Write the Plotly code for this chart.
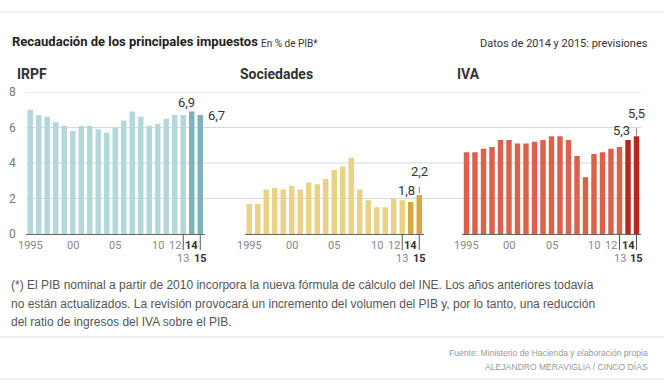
import plotly.graph_objects as go

W, H = 664, 387

years = list(range(1995, 2016))
irpf = [7.0, 6.7, 6.6, 6.3, 6.1, 5.8, 6.1, 6.1, 5.9, 5.7, 6.0, 6.4, 6.9, 6.6, 6.1, 6.2, 6.5, 6.7, 6.7, 6.9, 6.7]
sociedades = [1.7, 1.7, 2.5, 2.6, 2.5, 2.7, 2.5, 2.9, 2.8, 3.1, 3.6, 3.8, 4.3, 2.5, 1.9, 1.5, 1.5, 2.0, 1.9, 1.8, 2.2]
iva = [4.6, 4.6, 4.8, 4.9, 5.3, 5.3, 5.1, 5.1, 5.2, 5.3, 5.5, 5.5, 5.3, 4.4, 3.2, 4.5, 4.6, 4.8, 4.9, 5.3, 5.5]

panel_titles = ["IRPF", "Sociedades", "IVA"]
y_ticks = [0, 2, 4, 6, 8]
tick_top = {1995: "1995", 2000: "00", 2005: "05", 2010: "10", 2012: "12", 2014: "<b>14</b>"}
tick_bottom = {2013: "13", 2015: "<b>15</b>"}

light = ["#b3d8dc", "#ebd186", "#da624d"]
dark = ["#79b4b9", "#d8a83c", "#b8271d"]

NARROW = "Roboto, Liberation Sans, sans-serif"
SANS = "Liberation Sans, Arial, sans-serif"


def px(x):
    return x / W


def py(y):
    return 1 - y / H


# panel x domains in pixels
domains = [(26, 204.5), (245, 423.5), (462.25, 640.75)]
y_dom = (py(234), py(92))

fig = go.Figure()
series = [irpf, sociedades, iva]
for i, vals in enumerate(series):
    colors = [light[i]] * (len(years) - 2) + [dark[i]] * 2
    fig.add_trace(go.Bar(
        x=years, y=vals, marker=dict(color=colors, line=dict(width=0)),
        xaxis="x" if i == 0 else f"x{i+1}", yaxis="y" if i == 0 else f"y{i+1}",
        showlegend=False, hoverinfo="x+y",
    ))

layout = dict(
    width=W, height=H, autosize=False,
    margin=dict(l=0, r=0, t=0, b=0),
    paper_bgcolor="white", plot_bgcolor="rgba(0,0,0,0)",
    bargap=0.36, showlegend=False,
)
for i, (a, b) in enumerate(domains):
    xk = "xaxis" if i == 0 else f"xaxis{i+1}"
    yk = "yaxis" if i == 0 else f"yaxis{i+1}"
    layout[xk] = dict(domain=[px(a), px(b)], range=[1994.5, 2015.5], showgrid=False,
                      showticklabels=False, ticks="", zeroline=False,
                      showline=True, linecolor="#666666", linewidth=1.3,
                      anchor="y" if i == 0 else f"y{i+1}")
    layout[yk] = dict(domain=list(y_dom), range=[0, 8], showgrid=False, showticklabels=False,
                      ticks="", zeroline=False, showline=False,
                      anchor="x" if i == 0 else f"x{i+1}")
fig.update_layout(**layout)

shapes = []
annotations = []

# top/bottom rules
for yy in (12, 337, 379):
    shapes.append(dict(type="line", xref="paper", yref="paper", x0=0, x1=1, y0=py(yy), y1=py(yy),
                       line=dict(color="#e3e3e3", width=1.2)))

# gridlines
for v in y_ticks[1:]:
    shapes.append(dict(type="line", xref="paper", yref="y", x0=px(26), x1=px(641), y0=v, y1=v,
                       line=dict(color="#d9d9d9", width=1), layer="below"))

# y tick labels
for v in y_ticks:
    annotations.append(dict(x=px(18), y=v, xref="paper", yref="y", text=str(v), showarrow=False,
                            xanchor="right", yanchor="middle",
                            font=dict(family=NARROW, size=12, color="#777777")))

# x tick labels and tick lines
for i in range(3):
    xr = "x" if i == 0 else f"x{i+1}"
    for yr, lab in tick_top.items():
        annotations.append(dict(x=yr, y=py(245), xref=xr, yref="paper", text=lab, showarrow=False,
                                xanchor="center", yanchor="middle",
                                font=dict(family=NARROW, size=11,
                                          color="#333333" if "<b>" in lab else "#888888")))
    for yr, lab in tick_bottom.items():
        annotations.append(dict(x=yr, y=py(258.5), xref=xr, yref="paper", text=lab, showarrow=False,
                                xanchor="center", yanchor="middle",
                                font=dict(family=NARROW, size=11,
                                          color="#333333" if "<b>" in lab else "#888888")))
        shapes.append(dict(type="line", xref=xr, yref="paper", x0=yr, x1=yr, y0=py(234), y1=py(250),
                           line=dict(color="#555555", width=1)))
    # panel title
    annotations.append(dict(x=px([15, 238, 455][i]), y=py(74), xref="paper", yref="paper",
                            text=f"<b>{panel_titles[i]}</b>", showarrow=False,
                            xanchor="left", yanchor="middle",
                            font=dict(family=NARROW, size=14, color="#333333")))

# value labels
def val(v):
    return f"{v:.1f}".replace(".", ",")

annotations.append(dict(x=2014, y=irpf[-2], xref="x", yref="y", text=val(irpf[-2]), showarrow=False,
                        xanchor="center", yanchor="bottom", xshift=-5, yshift=0,
                        font=dict(family=NARROW, size=13, color="#333333")))
annotations.append(dict(x=2015.5, y=irpf[-1], xref="x", yref="y", text=val(irpf[-1]), showarrow=False,
                        xanchor="left", yanchor="middle", xshift=1, bgcolor="white",
                        font=dict(family=NARROW, size=13, color="#333333")))
annotations.append(dict(x=2014, y=sociedades[-2], xref="x2", yref="y2", text=val(sociedades[-2]),
                        showarrow=False, xanchor="center", yanchor="bottom", xshift=-4, yshift=2,
                        font=dict(family=NARROW, size=13, color="#333333")))
annotations.append(dict(x=2015, y=sociedades[-1], xref="x2", yref="y2", text=val(sociedades[-1]),
                        showarrow=False, xanchor="center", yanchor="bottom", yshift=14,
                        font=dict(family=NARROW, size=13, color="#333333")))
shapes.append(dict(type="line", xref="x2", yref="y2", x0=2015, x1=2015,
                   y0=sociedades[-1] + 0.1, y1=sociedades[-1] + 0.45,
                   line=dict(color="#888888", width=1)))
annotations.append(dict(x=2014, y=iva[-2], xref="x3", yref="y3", text=val(iva[-2]),
                        showarrow=False, xanchor="center", yanchor="bottom", xshift=-7, yshift=0,
                        font=dict(family=NARROW, size=13, color="#333333")))
annotations.append(dict(x=2015, y=iva[-1], xref="x3", yref="y3", text=val(iva[-1]),
                        showarrow=False, xanchor="center", yanchor="bottom", yshift=13,
                        font=dict(family=NARROW, size=13, color="#333333")))
shapes.append(dict(type="line", xref="x3", yref="y3", x0=2015, x1=2015,
                   y0=iva[-1] + 0.05, y1=iva[-1] + 0.45,
                   line=dict(color="#888888", width=1)))

# titles
annotations.append(dict(x=px(10), y=py(42), xref="paper", yref="paper",
                        text="<b>Recaudación de los principales impuestos</b>",
                        showarrow=False, xanchor="left", yanchor="middle",
                        font=dict(family=NARROW, size=13, color="#222222")))
annotations.append(dict(x=px(259), y=py(43), xref="paper", yref="paper", text="En % de PIB*",
                        showarrow=False, xanchor="left", yanchor="middle",
                        font=dict(family=NARROW, size=10, color="#333333")))
annotations.append(dict(x=px(650), y=py(43), xref="paper", yref="paper",
                        text="Datos de 2014 y 2015: previsiones",
                        showarrow=False, xanchor="right", yanchor="middle",
                        font=dict(family=NARROW, size=11, color="#333333")))

# footnote
foot = ["(*) El PIB nominal a partir de 2010 incorpora la nueva fórmula de cálculo del INE. Los años anteriores todavía",
        "no están actualizados. La revisión provocará un incremento del volumen del PIB y, por lo tanto, una reducción",
        "del ratio de ingresos del IVA sobre el PIB."]
for k, line in enumerate(foot):
    annotations.append(dict(x=px(9), y=py(285 + 18.5 * k), xref="paper", yref="paper", text=line,
                            showarrow=False, xanchor="left", yanchor="middle",
                            font=dict(family=SANS, size=12, color="#555555")))

annotations.append(dict(x=px(650), y=py(353), xref="paper", yref="paper",
                        text="Fuente: Ministerio de Hacienda y elaboración propia",
                        showarrow=False, xanchor="right", yanchor="middle",
                        font=dict(family=SANS, size=8.6, color="#999999")))
annotations.append(dict(x=px(650), y=py(367), xref="paper", yref="paper",
                        text="ALEJANDRO MERAVIGLIA / CINCO DÍAS",
                        showarrow=False, xanchor="right", yanchor="middle",
                        font=dict(family=SANS, size=8.6, color="#999999")))

fig.update_layout(shapes=shapes, annotations=annotations)
fig.write_html("out.html", config={"displayModeBar": False},
               post_script="document.body.style.margin='0px';")
